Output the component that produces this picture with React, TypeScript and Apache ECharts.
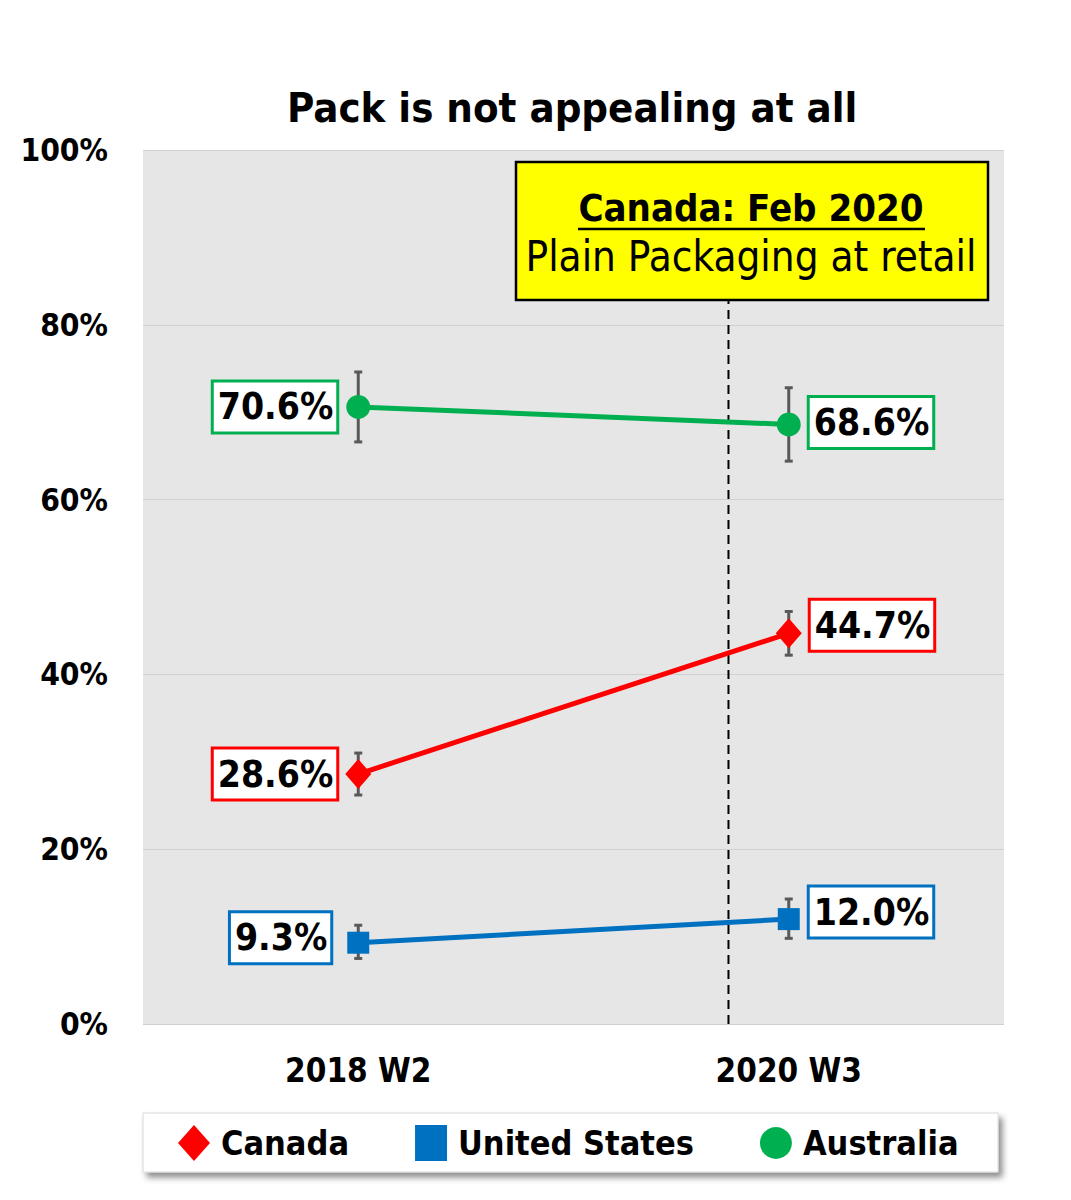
import React, { useEffect, useRef } from "react";
import * as echarts from "echarts";

const categories = ["2018 W2", "2020 W3"];
const seriesNames = ["Canada", "United States", "Australia"];
const canada = [28.6, 44.7];
const canadaLow = [26.2, 42.2];
const canadaHigh = [31.0, 47.2];
const unitedStates = [9.3, 12.0];
const usLow = [7.5, 9.8];
const usHigh = [11.3, 14.3];
const australia = [70.6, 68.6];
const ausLow = [66.6, 64.4];
const ausHigh = [74.6, 72.8];
const yTickStep = 20;
const dividerX = 0.86; // position between categories (category centers at 0 and 1)
const dividerTop = 82.8;
const titleText = "Pack is not appealing at all";
const noteTitle = "Canada: Feb 2020";
const noteText = "Plain Packaging at retail";

const FONT = '"DejaVu Sans Condensed", "DejaVu Sans", sans-serif';
const RED = "#ff0000";
const BLUE = "#0070c0";
const GREEN = "#00b050";

function labelItems(values: number[], offsets: number[], distances: number[]) {
  return values.map((v, i) => ({
    value: v,
    label: {
      position: i === 0 ? "left" : "right",
      offset: [0, offsets[i]],
      distance: distances[i],
    },
  }));
}

function labelStyle(color: string) {
  return {
    show: true,
    distance: 10,
    formatter: (p: any) => Number(p.value).toFixed(1) + "%",
    color: "#000",
    fontFamily: FONT,
    fontWeight: "bold",
    fontSize: 37,
    backgroundColor: "#fff",
    borderColor: color,
    borderWidth: 3,
    padding: [8, 3, 4, 4],
  };
}

function errorData(low: number[], high: number[]) {
  return low.map((l, i) => [i, l, high[i]]);
}

export default function App() {
  const ref = useRef<HTMLDivElement>(null);
  useEffect(() => {
    document.body.style.margin = "0";
    const chart = echarts.init(ref.current!, undefined, { renderer: "svg" });
    const errorSeries = (low: number[], high: number[]) => ({
      type: "custom",
      xAxisIndex: 0,
      yAxisIndex: 0,
      z: 1,
      silent: true,
      data: errorData(low, high),
      renderItem: (params: any, api: any) => {
        const x = api.value(0);
        const p1 = api.coord([x, api.value(1)]);
        const p2 = api.coord([x, api.value(2)]);
        const w = 4;
        const st = { stroke: "#595959", lineWidth: 3 };
        return {
          type: "group",
          children: [
            { type: "line", shape: { x1: p1[0], y1: p1[1], x2: p2[0], y2: p2[1] }, style: st },
            { type: "line", shape: { x1: p1[0] - w, y1: p1[1], x2: p1[0] + w, y2: p1[1] }, style: st },
            { type: "line", shape: { x1: p2[0] - w, y1: p2[1], x2: p2[0] + w, y2: p2[1] }, style: st },
          ],
        };
      },
    });

    const option: any = {
      animation: false,
      backgroundColor: "#fff",
      title: {
        text: titleText,
        left: 287,
        top: 86,
        padding: 0,
        textStyle: { fontFamily: FONT, fontWeight: "bold", fontSize: 41.5, color: "#000" },
      },
      grid: {
        left: 143,
        right: 67,
        top: 150,
        bottom: 176,
        show: true,
        backgroundColor: "#e6e6e6",
        borderWidth: 0,
      },
      legend: {
        data: [
          { name: "Canada", icon: "diamond" },
          { name: "United States", icon: "rect" },
          { name: "Australia", icon: "circle" },
        ],
        left: 178,
        top: 1125,
        padding: 0,
        itemWidth: 32,
        itemHeight: 36,
        itemGap: 66,
        textStyle: { fontFamily: FONT, fontWeight: "bold", fontSize: 34, color: "#000", padding: [0, 0, 0, 6] },
      },
      xAxis: [
        {
          type: "category",
          data: categories,
          boundaryGap: true,
          axisLine: { show: false },
          axisTick: { show: false },
          axisLabel: {
            margin: 30,
            fontFamily: FONT,
            fontWeight: "bold",
            fontSize: 33,
            color: "#000",
          },
          splitLine: { show: false },
        },
        {
          type: "value",
          min: -0.5,
          max: 1.5,
          show: false,
        },
      ],
      yAxis: {
        type: "value",
        min: 0,
        max: 100,
        interval: yTickStep,
        axisLine: { show: false },
        axisTick: { show: false },
        axisLabel: {
          formatter: "{value}%",
          margin: 35,
          fontFamily: FONT,
          fontWeight: "bold",
          fontSize: 31.5,
          color: "#000",
        },
        splitLine: { show: true, lineStyle: { color: "#d0d0d0", width: 1 } },
      },
      graphic: [
        {
          type: "rect",
          shape: { x: 516, y: 162, width: 472, height: 138 },
          style: { fill: "#ffff00", stroke: "#000", lineWidth: 2.5 },
          z: 10,
        },
        {
          type: "text",
          x: 751,
          y: 208,
          style: {
            text: noteTitle,
            fontFamily: FONT,
            fontWeight: "bold",
            fontSize: 38,
            fill: "#000",
            align: "center",
            verticalAlign: "middle",
          },
          z: 11,
        },
        {
          type: "line",
          shape: { x1: 578, y1: 229, x2: 925, y2: 229 },
          style: { stroke: "#000", lineWidth: 2.5 },
          z: 11,
        },
        {
          type: "text",
          x: 751,
          y: 256,
          style: {
            text: noteText,
            fontFamily: FONT,
            fontWeight: "normal",
            fontSize: 41.8,
            fill: "#000",
            align: "center",
            verticalAlign: "middle",
          },
          z: 11,
        },
        {
          type: "rect",
          shape: { x: 143, y: 1113, width: 855, height: 59 },
          style: {
            fill: "#fff",
            stroke: "#d9d9d9",
            lineWidth: 1,
            shadowBlur: 6,
            shadowOffsetX: 4,
            shadowOffsetY: 5,
            shadowColor: "rgba(0,0,0,0.45)",
          },
          z: -1,
        },
      ],
      series: [
        {
          type: "custom",
          xAxisIndex: 1,
          yAxisIndex: 0,
          z: 1,
          silent: true,
          data: [[dividerX, 0, dividerTop]],
          renderItem: (params: any, api: any) => {
            const a = api.coord([api.value(0), api.value(1)]);
            const b = api.coord([api.value(0), api.value(2)]);
            return {
              type: "line",
              shape: { x1: a[0], y1: a[1], x2: b[0], y2: b[1] },
              style: { stroke: "#000", lineWidth: 2, lineDash: [9, 6] },
            };
          },
        },
        errorSeries(canadaLow, canadaHigh),
        errorSeries(usLow, usHigh),
        errorSeries(ausLow, ausHigh),
        {
          name: seriesNames[0],
          type: "line",
          z: 3,
          data: labelItems(canada, [0, -8], [9, 9]),
          symbol: "diamond",
          symbolSize: [26, 30],
          itemStyle: { color: RED },
          lineStyle: { color: RED, width: 5 },
          label: labelStyle(RED),
        },
        {
          name: seriesNames[1],
          type: "line",
          z: 3,
          data: labelItems(unitedStates, [-5, -7], [17, 10]),
          symbol: "rect",
          symbolSize: 22,
          itemStyle: { color: BLUE },
          lineStyle: { color: BLUE, width: 5 },
          label: labelStyle(BLUE),
        },
        {
          name: seriesNames[2],
          type: "line",
          z: 3,
          data: labelItems(australia, [0, -2], [10, 9]),
          symbol: "circle",
          symbolSize: 24,
          itemStyle: { color: GREEN },
          lineStyle: { color: GREEN, width: 5 },
          label: labelStyle(GREEN),
        },
      ],
    };
    chart.setOption(option);
    return () => chart.dispose();
  }, []);
  return <div ref={ref} style={{ width: 1071, height: 1200 }} />;
}
